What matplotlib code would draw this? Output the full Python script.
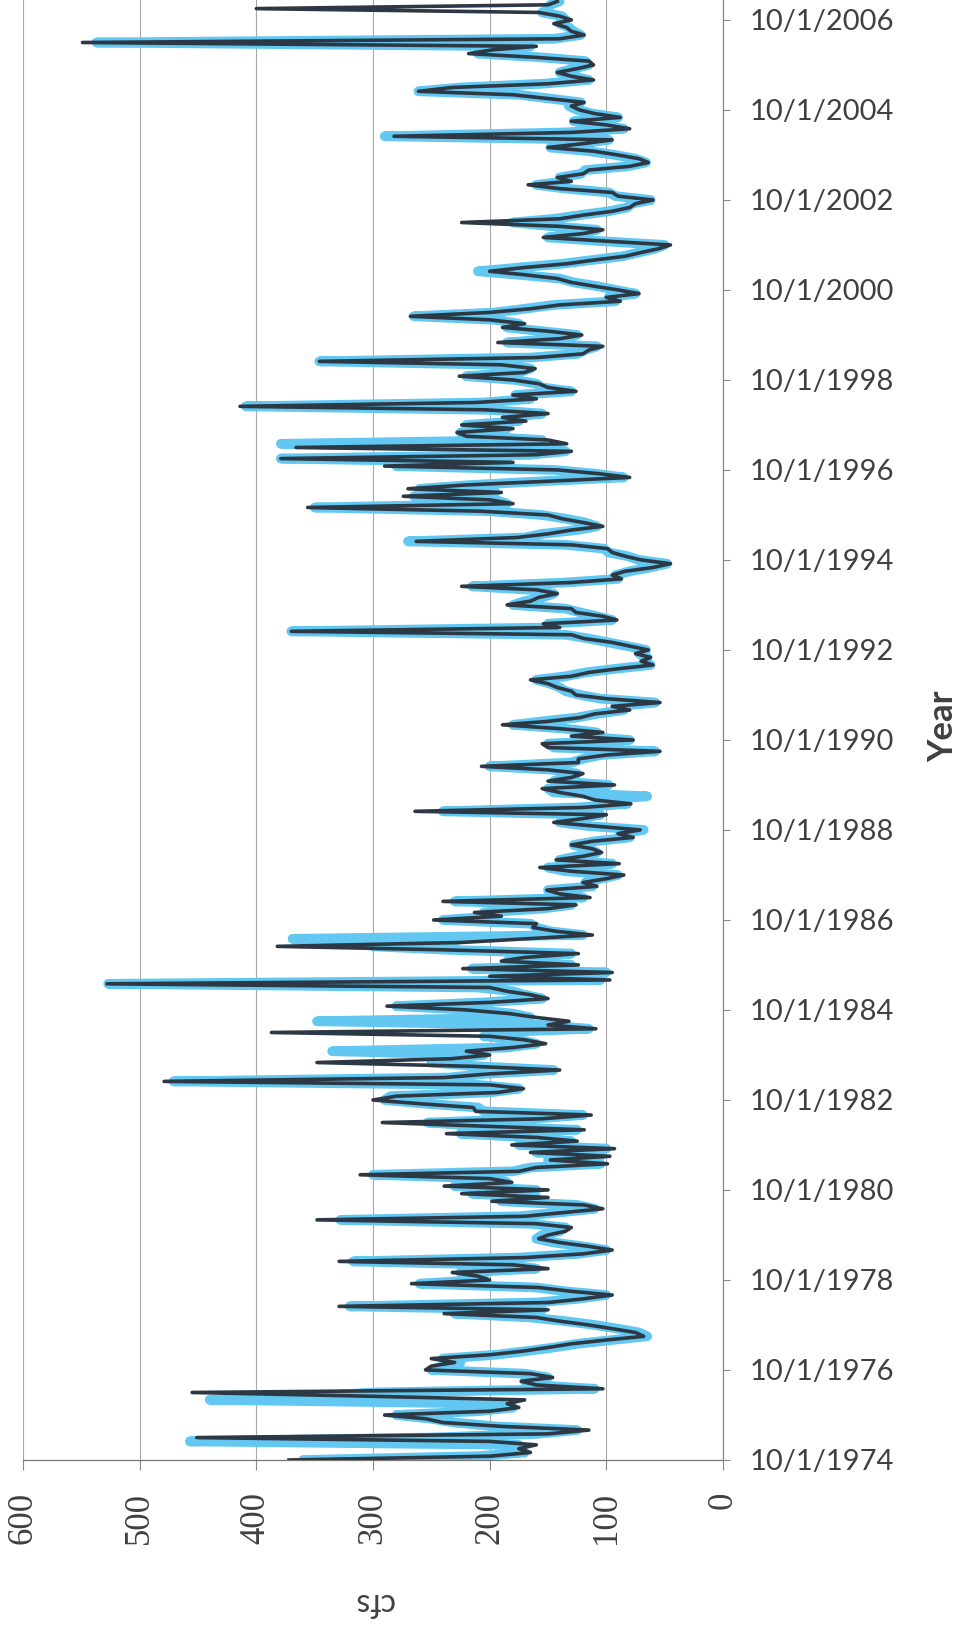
import matplotlib
matplotlib.use("Agg")
import matplotlib.pyplot as plt
import pandas as pd

# ---------- data (monthly, starting 10/1/1974) ----------
dark_cfs = [
    372, 200, 165, 175, 160, 200, 451, 150, 115, 190, 240, 255,
    290, 200, 175, 185, 170, 300, 455, 103, 160, 173, 146, 165,
    255, 250, 230, 250, 200, 173, 150, 130, 100, 68, 75, 95,
    115, 140, 160, 239, 150, 329, 150, 120, 95, 130, 158, 267,
    200, 210, 232, 150, 180, 329, 170, 120, 95, 115, 140, 158,
    150, 135, 130, 160, 348, 170, 136, 103, 119, 198, 150, 224,
    150, 239, 181, 200, 311, 175, 160, 99, 148, 97, 165, 93,
    181, 125, 160, 237, 119, 200, 292, 156, 113, 212, 214, 260,
    300, 280, 193, 171, 200, 479, 239, 200, 140, 214, 348, 233,
    200, 220, 180, 152, 170, 200, 387, 109, 150, 132, 160, 183,
    220, 288, 200, 150, 165, 185, 200, 528, 97, 200, 95, 223,
    124, 190, 170, 124, 240, 382, 225, 170, 112, 143, 163, 160,
    248, 190, 213, 150, 126, 240, 114, 140, 151, 108, 120, 100,
    85, 130, 157, 89, 143, 120, 104, 112, 130, 112, 77, 90,
    71, 110, 145, 120, 100, 264, 120, 79, 110, 120, 140, 155,
    93, 150, 130, 120, 150, 207, 124, 124, 100, 54, 150, 155,
    77, 130, 103, 140, 189, 150, 122, 110, 80, 95, 54, 100,
    126, 130, 142, 150, 165, 130, 115, 90, 60, 70, 62, 75,
    64, 80, 95, 119, 130, 370, 140, 154, 91, 103, 126, 130,
    185, 165, 158, 142, 160, 224, 130, 87, 95, 84, 60, 45,
    70, 84, 95, 99, 130, 263, 177, 150, 130, 103, 120, 138,
    150, 208, 356, 180, 200, 274, 190, 270, 220, 150, 80, 107,
    142, 290, 180, 379, 160, 130, 366, 134, 150, 220, 228, 180,
    224, 169, 189, 150, 204, 414, 212, 160, 180, 126, 150, 158,
    180, 226, 170, 161, 190, 346, 160, 120, 115, 103, 193, 140,
    121, 150, 189, 170, 200, 268, 200, 165, 140, 88, 100, 72,
    90, 111, 130, 142, 170, 200, 170, 134, 110, 84, 70, 55,
    45, 100, 154, 120, 103, 140, 224, 140, 119, 95, 80, 75,
    60, 90, 95, 140, 167, 130, 142, 120, 115, 80, 64, 72,
    90, 111, 150, 120, 95, 282, 130, 80, 100, 130, 88, 110,
    123, 130, 119, 150, 180, 261, 232, 150, 111, 130, 142, 125,
    111, 115, 160, 218, 197, 160, 549, 140, 119, 130, 134, 145,
    130, 140, 158, 400, 150, 142,
]

light_cfs = [
    360, 210, 170, 180, 175, 457, 250, 160, 125, 195, 230, 250,
    280, 210, 180, 190, 440, 350, 300, 110, 165, 170, 150, 170,
    250, 240, 225, 240, 195, 170, 145, 125, 95, 65, 72, 90,
    110, 135, 165, 230, 155, 320, 160, 125, 100, 135, 160, 260,
    210, 205, 225, 160, 185, 317, 175, 125, 100, 120, 145, 160,
    155, 140, 135, 165, 328, 175, 140, 110, 125, 190, 160, 215,
    160, 230, 185, 195, 300, 180, 165, 105, 150, 105, 160, 100,
    175, 130, 165, 225, 125, 205, 253, 165, 120, 205, 210, 255,
    290, 285, 200, 175, 210, 471, 235, 205, 145, 210, 250, 240,
    205, 335, 185, 160, 175, 205, 200, 115, 155, 348, 165, 180,
    215, 280, 205, 155, 170, 180, 210, 527, 105, 195, 100, 215,
    130, 185, 175, 130, 235, 300, 230, 369, 120, 148, 160, 165,
    240, 195, 205, 155, 130, 230, 120, 145, 150, 112, 118, 105,
    90, 135, 150, 95, 140, 125, 108, 115, 128, 110, 80, 88,
    68, 115, 140, 125, 105, 240, 125, 82, 105, 65, 145, 150,
    98, 145, 135, 125, 145, 200, 130, 120, 105, 58, 145, 150,
    80, 125, 108, 135, 180, 155, 125, 108, 85, 92, 58, 105,
    122, 135, 140, 148, 160, 135, 118, 92, 62, 68, 65, 72,
    66, 82, 98, 115, 135, 370, 145, 150, 95, 108, 122, 135,
    180, 170, 155, 145, 165, 215, 135, 90, 92, 80, 62, 48,
    72, 82, 98, 102, 135, 270, 170, 155, 125, 108, 118, 135,
    155, 200, 350, 185, 195, 265, 195, 260, 215, 155, 85, 110,
    145, 280, 185, 379, 165, 135, 150, 379, 155, 215, 225, 185,
    220, 175, 185, 155, 200, 409, 205, 165, 178, 130, 155, 160,
    178, 220, 175, 165, 188, 346, 165, 125, 118, 108, 185, 145,
    125, 155, 185, 175, 195, 265, 195, 170, 145, 92, 98, 75,
    92, 108, 128, 140, 175, 210, 175, 138, 112, 86, 72, 58,
    50, 105, 150, 125, 108, 145, 180, 145, 122, 98, 82, 78,
    62, 92, 98, 135, 160, 135, 140, 122, 118, 82, 66, 75,
    92, 115, 148, 122, 98, 290, 135, 85, 105, 128, 90, 112,
    125, 132, 122, 148, 175, 261, 225, 155, 115, 128, 140, 128,
    115, 118, 155, 210, 190, 165, 537, 145, 122, 128, 132, 140,
    135, 138, 155, 150, 148, 140,
]

cfs_ticks = [0, 100, 200, 300, 400, 500, 600]
tick_years = list(range(1974, 2007, 2))

dates = pd.date_range("1974-10-01", periods=len(dark_cfs), freq="MS")

# ---------- figure ----------
fig = plt.figure(figsize=(9.6, 16.27), dpi=100)
ax = fig.add_axes([23 / 960, 167 / 1627, 700 / 960, 1 - 167 / 1627])

ax.plot(light_cfs, dates, color="#62c8f2", lw=7, solid_joinstyle="round",
        solid_capstyle="round", zorder=2)
ax.plot(dark_cfs, dates, color="#2c3843", lw=2.6, zorder=3)

ax.set_xlim(600, 0)
ax.set_ylim(pd.Timestamp("1974-10-01"), pd.Timestamp("2007-03-12"))

ax.set_xticks(cfs_ticks)
ax.set_xticklabels([str(v) for v in cfs_ticks], rotation=90, va="top",
                   fontfamily="Liberation Serif", fontsize=25, color="#404040")
ax.tick_params(axis="x", direction="out", length=7, width=0.8,
               color="#888888", pad=16)

ax.yaxis.tick_right()
ytick_dates = [pd.Timestamp(f"{y}-10-01") for y in tick_years]
ax.set_yticks(ytick_dates)
ax.set_yticklabels([f"10/1/{y}" for y in tick_years],
                   fontfamily="Lato", fontsize=21, color="#404040")
ax.tick_params(axis="y", direction="out", length=5, width=0.8,
               color="#888888", pad=14)

ax.grid(axis="x", color="#a8a8a8", lw=0.8)
ax.set_axisbelow(True)
for side in ["top", "left"]:
    ax.spines[side].set_visible(False)
ax.spines["right"].set_color("#888888")
ax.spines["bottom"].set_color("#777777")
ax.spines["right"].set_linewidth(0.9)
ax.spines["bottom"].set_linewidth(0.9)

# axis titles (the chart is rotated)
fig.text(943 / 960, 1 - 726 / 1627, "Year", rotation=90, ha="center",
         va="center", fontfamily="Lato", fontweight="bold", fontsize=25,
         color="#404040")
fig.text(373 / 960, 1 - 1602 / 1627, "cfs", rotation=180, ha="center",
         va="center", fontfamily="Lato", fontsize=23, color="#404040")

fig.savefig("out.png", dpi=100)
